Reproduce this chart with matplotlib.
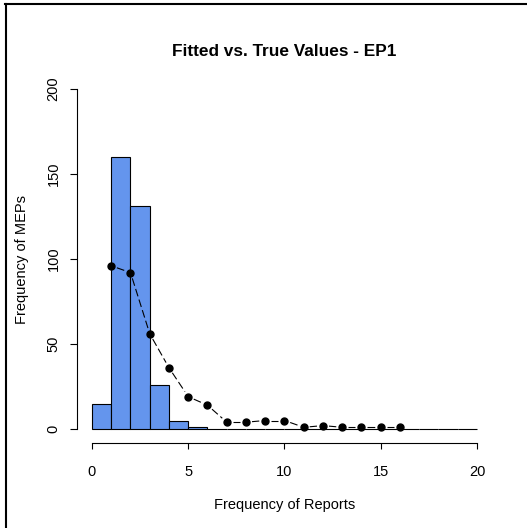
import numpy as np
import matplotlib.pyplot as plt
from matplotlib.lines import Line2D

plt.rcParams['font.family'] = ['Liberation Sans', 'DejaVu Sans']

# observed histogram of reports per MEP (unit-width bins 0..20)
breaks = np.arange(0, 21)
counts = [15, 160, 131, 26, 5, 1, 0, 0, 0, 0, 0, 0, 0, 0, 0, 0, 0, 0, 0, 0]

# fitted frequencies
fit_x = np.arange(1, 17)
fit_y = [96, 92, 56, 36, 19, 14, 4, 4, 5, 5, 1, 2, 1, 1, 1, 1]

W, H = 527, 528
fig = plt.figure(figsize=(W / 100, H / 100), dpi=100)
ax = fig.add_axes([76.6 / W, 1 - 442.6 / H, 415.8 / W, 367.2 / H])
ax.set_xlim(-0.8, 20.8)
ax.set_ylim(-8, 208)

ax.bar(breaks[:-1], counts, width=1, align='edge', color='#6495ED',
       edgecolor='black', linewidth=0.8)

# points joined by dashed lines that stop short of each point (R type="b")
ax.plot(fit_x, fit_y, 'o', color='black', markersize=5)
pts = ax.transData.transform(np.column_stack([fit_x, fit_y]))
inv = ax.transData.inverted()
gap = 6
for p0, p1 in zip(pts[:-1], pts[1:]):
    d = p1 - p0
    L = np.hypot(*d)
    if L <= 2 * gap:
        continue
    u = d / L
    seg = inv.transform([p0 + u * gap, p1 - u * gap])
    ax.plot(seg[:, 0], seg[:, 1], color='black', lw=0.8, dashes=(7, 3))

for s in ['top', 'right']:
    ax.spines[s].set_visible(False)
ax.spines['bottom'].set_bounds(0, 20)
ax.spines['left'].set_bounds(0, 200)
for s in ['bottom', 'left']:
    ax.spines[s].set_linewidth(0.8)

fs = 10.5
ax.set_xticks([0, 5, 10, 15, 20])
ax.set_yticks([0, 50, 100, 150, 200])
ax.tick_params(axis='x', length=4.3, width=0.8, pad=11.5, labelsize=fs)
ax.tick_params(axis='y', length=5, width=0.8, pad=6.5, labelsize=fs,
               labelrotation=90)
for lab in ax.get_yticklabels():
    lab.set_va('center')

cx = (92 + 477) / 2
fig.text(cx / W, 1 - 52 / H, 'Fitted vs. True Values - EP1',
         ha='center', va='center', fontsize=12.4, fontweight='bold')
fig.text(cx / W, 1 - 505 / H, 'Frequency of Reports',
         ha='center', va='center', fontsize=fs)
fig.text(22 / W, 1 - 259 / H, 'Frequency of MEPs', rotation=90,
         ha='center', va='center', fontsize=fs)

# outer frame (left and top edges)
fig.add_artist(Line2D([6 / W, 6 / W], [0, 1 - 3.5 / H], color='black', lw=1.5))
fig.add_artist(Line2D([5 / W, 1], [1 - 4 / H, 1 - 4 / H], color='black', lw=1.5))

fig.savefig('out.png', dpi=100)
